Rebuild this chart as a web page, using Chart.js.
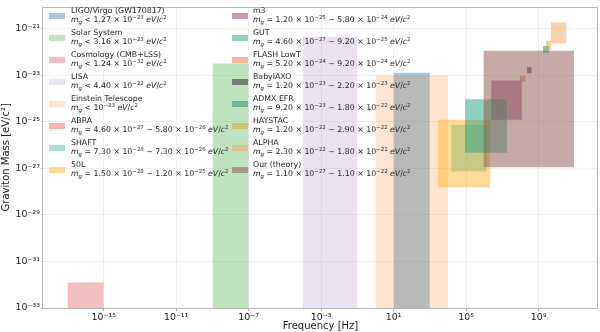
<!DOCTYPE html>
<html>
<head>
<meta charset="utf-8">
<script src="https://cdn.jsdelivr.net/npm/chart.js@4.4.1/dist/chart.umd.min.js"></script>
<style>
  html, body { margin: 0; padding: 0; background: #ffffff; }
  #wrap { width: 600px; height: 332px; }
</style>
</head>
<body>
<div id="wrap"><canvas id="c" width="600" height="332"></canvas></div>
<script>
// ---------------- data ----------------
const names = ['LIGO/Virgo (GW170817)', 'Solar System', 'Cosmology (CMB+LSS)', 'LISA', 'Einstein Telescope',
  'ABRA', 'SHAFT', '50L', 'm3', 'GUT', 'FLASH LowT', 'BabyIAXO', 'ADMX EFR', 'HAYSTAC', 'ALPHA', 'Our (theory)'];
const formulas = [
  'm_g < 1.27 × 10^{-23} eV/c^2',
  'm_g < 3.16 × 10^{-23} eV/c^2',
  'm_g < 1.24 × 10^{-32} eV/c^2',
  'm_g < 4.40 × 10^{-22} eV/c^2',
  'm_g < 10^{-23} eV/c^2',
  'm_g = 4.60 × 10^{-27} ∼ 5.80 × 10^{-26} eV/c^2',
  'm_g = 7.30 × 10^{-28} ∼ 7.30 × 10^{-26} eV/c^2',
  'm_g = 1.50 × 10^{-28} ∼ 1.20 × 10^{-25} eV/c^2',
  'm_g = 1.20 × 10^{-25} ∼ 5.80 × 10^{-24} eV/c^2',
  'm_g = 4.60 × 10^{-27} ∼ 9.20 × 10^{-25} eV/c^2',
  'm_g = 5.20 × 10^{-24} ∼ 9.20 × 10^{-24} eV/c^2',
  'm_g = 1.20 × 10^{-23} ∼ 2.20 × 10^{-23} eV/c^2',
  'm_g = 9.20 × 10^{-23} ∼ 1.80 × 10^{-22} eV/c^2',
  'm_g = 1.20 × 10^{-22} ∼ 2.90 × 10^{-22} eV/c^2',
  'm_g = 2.30 × 10^{-22} ∼ 1.80 × 10^{-21} eV/c^2',
  'm_g = 1.10 × 10^{-27} ∼ 1.10 × 10^{-22} eV/c^2'
];
// mass range (eV/c^2); upper limits start at the bottom of the axis
const massLow  = [1e-33, 1e-33, 1e-33, 1e-33, 1e-33, 4.6e-27, 7.3e-28, 1.5e-28, 1.2e-25, 4.6e-27, 5.2e-24, 1.2e-23, 9.2e-23, 1.2e-22, 2.3e-22, 1.1e-27];
const massHigh = [1.27e-23, 3.16e-23, 1.24e-32, 4.4e-22, 1e-23, 5.8e-26, 7.3e-26, 1.2e-25, 5.8e-24, 9.2e-25, 9.2e-24, 2.2e-23, 1.8e-22, 2.9e-22, 1.8e-21, 1.1e-22];
// frequency range (Hz); ABRA region is not visible in the figure
const freqLow  = [10, 1e-9, 1e-17, 1e-4, 1, null, 1.5e4, 2.8e3, 2.4e6, 8.7e4, 9.3e7, 2.2e8, 1.7e9, 2.5e9, 4.7e9, 9e5];
const freqHigh = [1e3, 1e-7, 1e-15, 1e-1, 1e4, null, 1.4e6, 2.2e6, 1.2e8, 1.8e7, 1.95e8, 4.2e8, 3.9e9, 5.2e9, 3.5e10, 9e10];
const colors = [
  'rgba(31,119,180,0.4)', 'rgba(44,160,44,0.3)', 'rgba(214,39,40,0.3)', 'rgba(148,103,189,0.2)', 'rgba(255,127,14,0.2)',
  'rgba(230,90,90,0.45)', 'rgba(32,178,170,0.4)', 'rgba(255,165,0,0.4)', 'rgba(128,30,100,0.45)', 'rgba(40,160,130,0.5)',
  'rgba(240,110,60,0.5)', 'rgba(60,60,60,0.6)', 'rgba(30,140,110,0.5)', 'rgba(218,165,32,0.45)', 'rgba(244,164,96,0.5)',
  'rgba(140,86,75,0.5)'
];
const xTickValues = [1e-15, 1e-11, 1e-7, 1e-3, 1e1, 1e5, 1e9];
const xTickLabels = ['10⁻¹⁵', '10⁻¹¹', '10⁻⁷', '10⁻³', '10¹', '10⁵', '10⁹'];
const yTickValues = [1e-33, 1e-31, 1e-29, 1e-27, 1e-25, 1e-23, 1e-21];
const yTickLabels = ['10⁻³³', '10⁻³¹', '10⁻²⁹', '10⁻²⁷', '10⁻²⁵', '10⁻²³', '10⁻²¹'];

// ---------------- datasets ----------------
const N = names.length;
const datasets = names.map((n, i) => ({
  label: n,
  data: freqLow[i] === null ? [] : [{x: freqLow[i], y: massHigh[i]}, {x: freqHigh[i], y: massHigh[i]}],
  fill: {value: massLow[i]},
  backgroundColor: colors[i],
  borderColor: 'rgba(0,0,0,0)',
  borderWidth: 0,
  pointRadius: 0,
  pointHoverRadius: 0,
  showLine: true,
  tension: 0,
  order: N - i
}));

// ---------------- helpers ----------------
const FONT = "'DejaVu Sans', 'Liberation Sans', sans-serif";
function parseMath(s) {
  const out = [];
  let i = 0;
  const push = (ch, lvl) => out.push({t: ch, it: /[A-Za-z]/.test(ch), lvl});
  while (i < s.length) {
    const c = s[i];
    if (c === '^' || c === '_') {
      const lvl = c === '^' ? 1 : -1; i++;
      if (s[i] === '{') { i++; while (s[i] !== '}') { push(s[i] === '-' ? '−' : s[i], lvl); i++; } i++; }
      else { push(s[i], lvl); i++; }
    } else { push(c, 0); i++; }
  }
  return out;
}
function drawMath(ctx, str, x, y, size) {
  const segs = parseMath(str);
  let cx = x;
  for (const s of segs) {
    const fs = s.lvl === 0 ? size : size * 0.7;
    const dy = s.lvl === 1 ? -size * 0.38 : (s.lvl === -1 ? size * 0.22 : 0);
    ctx.font = (s.it ? 'italic ' : '') + fs + 'px ' + FONT;
    ctx.fillText(s.t, cx, y + dy);
    cx += ctx.measureText(s.t).width;
  }
}

const framePlugin = {
  id: 'frame',
  afterDatasetsDraw(chart) {
    const {ctx, chartArea: a} = chart;
    ctx.save();
    ctx.strokeStyle = '#b8b8b8';
    ctx.lineWidth = 1;
    ctx.strokeRect(Math.round(a.left) - 0.5, Math.round(a.top) + 0.5, Math.round(a.right - a.left), Math.round(a.bottom - a.top));
    ctx.restore();
  }
};

const legendPlugin = {
  id: 'richLegend',
  afterDraw(chart) {
    const ctx = chart.ctx;
    ctx.save();
    const colX = [49, 232];
    const textX = [71, 253];
    const size = 7.8;
    for (let i = 0; i < N; i++) {
      const col = Math.floor(i / 8), row = i % 8;
      const cy = 16 + 22 * row;
      ctx.fillStyle = colors[i];
      ctx.fillRect(colX[col], cy - 3, 16, 6);
      ctx.fillStyle = '#262626';
      ctx.textBaseline = 'alphabetic';
      ctx.textAlign = 'left';
      ctx.font = size + 'px ' + FONT;
      ctx.fillText(names[i], textX[col], cy - 3.3);
      drawMath(ctx, formulas[i], textX[col], cy + 6.3, size);
    }
    ctx.restore();
  }
};

const tickFont = {family: FONT, size: 9.4};
const titleFont = {family: FONT, size: 10};

new Chart(document.getElementById('c'), {
  type: 'scatter',
  data: {datasets},
  options: {
    responsive: false,
    animation: false,
    events: [],
    layout: {padding: {top: 1, right: 2, left: 0, bottom: 0}},
    plugins: {legend: {display: false}, tooltip: {enabled: false}},
    scales: {
      x: {
        type: 'logarithmic',
        position: 'bottom',
        min: Math.pow(10, -18.35),
        max: Math.pow(10, 12.28),
        afterBuildTicks: s => { s.ticks = xTickValues.map(v => ({value: v})); },
        afterFit: s => { s.height = 24; },
        ticks: {
          callback: (v, i) => xTickLabels[i],
          font: tickFont, color: '#1a1a1a', padding: 1, maxRotation: 0, autoSkip: false
        },
        grid: {color: '#ececec', lineWidth: 0.8, tickLength: 3, tickColor: '#999', drawTicks: true},
        border: {display: false},
        title: {display: true, text: 'Frequency [Hz]', font: titleFont, color: '#1a1a1a', padding: {top: 0, bottom: 0}}
      },
      y: {
        type: 'logarithmic',
        position: 'left',
        min: 1e-33,
        max: Math.pow(10, -20.06),
        afterBuildTicks: s => { s.ticks = yTickValues.map(v => ({value: v})); },
        afterFit: s => { s.width = 43; },
        ticks: {
          callback: (v, i) => yTickLabels[i],
          font: tickFont, color: '#1a1a1a', padding: 1, autoSkip: false
        },
        grid: {color: '#ececec', lineWidth: 0.8, tickLength: 2, tickColor: '#999', drawTicks: true},
        border: {display: false},
        title: {display: true, text: 'Graviton Mass [eV/c²]', font: titleFont, color: '#1a1a1a', padding: {top: 0, bottom: 0}}
      }
    }
  },
  plugins: [framePlugin, legendPlugin]
});
</script>
</body>
</html>
